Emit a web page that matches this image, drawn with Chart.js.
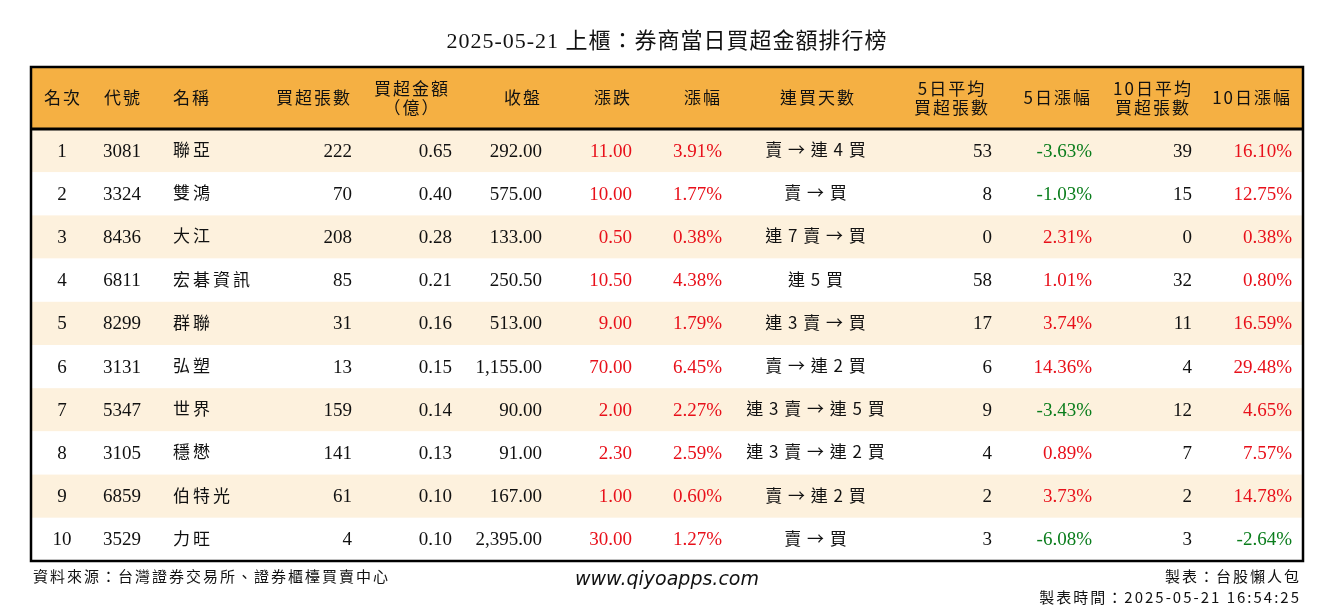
<!DOCTYPE html>
<html lang="zh-Hant">
<head>
<meta charset="UTF-8">
<title>券商當日買超金額排行榜</title>
<style>
  body { margin: 0; background: white; }
  canvas { display: block; }
</style>
</head>
<body>
<canvas id="tbl" width="1334" height="612"></canvas>
<script src="https://cdn.jsdelivr.net/npm/chart.js"></script>
<script>
// table data
const ranks = [1, 2, 3, 4, 5, 6, 7, 8, 9, 10];
const codes = ['3081', '3324', '8436', '6811', '8299', '3131', '5347', '3105', '6859', '3529'];
const names = ['聯亞', '雙鴻', '大江', '宏碁資訊', '群聯', '弘塑', '世界', '穩懋', '伯特光', '力旺'];
const netLots = [222, 70, 208, 85, 31, 13, 159, 141, 61, 4];
const netAmount = [0.65, 0.40, 0.28, 0.21, 0.16, 0.15, 0.14, 0.13, 0.10, 0.10];
const closePrice = [292.00, 575.00, 133.00, 250.50, 513.00, 1155.00, 90.00, 91.00, 167.00, 2395.00];
const change = [11.00, 10.00, 0.50, 10.50, 9.00, 70.00, 2.00, 2.30, 1.00, 30.00];
const changePct = [3.91, 1.77, 0.38, 4.38, 1.79, 6.45, 2.27, 2.59, 0.60, 1.27];
const streak = ['賣 → 連 4 買', '賣 → 買', '連 7 賣 → 買', '連 5 買', '連 3 賣 → 買', '賣 → 連 2 買', '連 3 賣 → 連 5 買', '連 3 賣 → 連 2 買', '賣 → 連 2 買', '賣 → 買'];
const avg5 = [53, 8, 0, 58, 17, 6, 9, 4, 2, 3];
const pct5 = [-3.63, -1.03, 2.31, 1.01, 3.74, 14.36, -3.43, 0.89, 3.73, -6.08];
const avg10 = [39, 15, 0, 32, 11, 4, 12, 7, 2, 3];
const pct10 = [16.10, 12.75, 0.38, 0.80, 16.59, 29.48, 4.65, 7.57, 14.78, -2.64];
const headers = ['名次', '代號', '名稱', '買超張數', '買超金額\n（億）', '收盤', '漲跌', '漲幅', '連買天數', '5日平均\n買超張數', '5日漲幅', '10日平均\n買超張數', '10日漲幅'];

const RED = '#e8101a', GREEN = '#0a7d1c', BLACK = '#111';
const f2 = v => v.toLocaleString('en-US', { minimumFractionDigits: 2, maximumFractionDigits: 2 });
const pct = v => f2(v) + '%';
const signColor = v => v < 0 ? GREEN : RED;

// column layout: anchor x, alignment, header anchor
const cols = [
  { x: 62,   align: 'center', hx: 63,   ha: 'center', text: i => String(ranks[i]) },
  { x: 122,  align: 'center', hx: 123,  ha: 'center', text: i => codes[i] },
  { x: 173,  align: 'left',   hx: 173,  ha: 'left',   text: i => names[i], cjk: '3px' },
  { x: 352,  align: 'right',  hx: 352,  ha: 'right',  text: i => String(netLots[i]) },
  { x: 452,  align: 'right',  hx: 412,  ha: 'center', text: i => f2(netAmount[i]) },
  { x: 542,  align: 'right',  hx: 542,  ha: 'right',  text: i => f2(closePrice[i]) },
  { x: 632,  align: 'right',  hx: 632,  ha: 'right',  text: i => f2(change[i]), color: i => RED },
  { x: 722,  align: 'right',  hx: 722,  ha: 'right',  text: i => pct(changePct[i]), color: i => RED },
  { x: 816,  align: 'center', hx: 818,  ha: 'center', text: i => streak[i], cjk: '1px' },
  { x: 992,  align: 'right',  hx: 952,  ha: 'center', text: i => String(avg5[i]) },
  { x: 1092, align: 'right',  hx: 1092, ha: 'right',  text: i => pct(pct5[i]), color: i => signColor(pct5[i]) },
  { x: 1192, align: 'right',  hx: 1153, ha: 'center', text: i => String(avg10[i]) },
  { x: 1292, align: 'right',  hx: 1292, ha: 'right',  text: i => pct(pct10[i]), color: i => signColor(pct10[i]) },
];

const SERIF = '"Liberation Serif", "Noto Sans CJK TC", serif';
const CJK = '"Noto Sans CJK TC", sans-serif';
const TOP = 67, HEAD_BOTTOM = 129, BOTTOM = 561, LEFT = 31, RIGHT = 1303;
const ROW_H = (BOTTOM - HEAD_BOTTOM) / ranks.length;

const tablePlugin = {
  id: 'table',
  afterDraw(chart) {
    const c = chart.ctx;
    const xs = chart.scales.x, ys = chart.scales.y;
    const px = v => xs.getPixelForValue(v);
    const py = v => ys.getPixelForValue(v);
    c.save();
    c.textBaseline = 'middle';

    // title
    c.fillStyle = BLACK;
    c.textAlign = 'center';
    c.letterSpacing = '1px';
    c.font = '22px ' + SERIF;
    c.fillText('2025-05-21 上櫃：券商當日買超金額排行榜', px(667), py(42));

    // header band
    c.fillStyle = '#f5b043';
    c.fillRect(px(LEFT), py(TOP), px(RIGHT) - px(LEFT), py(HEAD_BOTTOM) - py(TOP));
    // row shading
    ranks.forEach((r, i) => {
      const y0 = HEAD_BOTTOM + i * ROW_H;
      c.fillStyle = i % 2 === 0 ? '#fdf1dd' : '#ffffff';
      c.fillRect(px(LEFT), py(y0), px(RIGHT) - px(LEFT), py(y0 + ROW_H) - py(y0));
    });

    // header text
    c.fillStyle = BLACK;
    c.font = '17px ' + CJK;
    c.letterSpacing = '2px';
    cols.forEach((col, j) => {
      const lines = headers[j].split('\n');
      c.textAlign = col.ha;
      const mid = (TOP + HEAD_BOTTOM) / 2;
      lines.forEach((ln, k) => {
        const y = mid + (k - (lines.length - 1) / 2) * 19;
        c.fillText(ln, px(col.hx), py(y));
      });
    });

    // cells
    ranks.forEach((r, i) => {
      const yc = HEAD_BOTTOM + (i + 0.5) * ROW_H + 1;
      cols.forEach((col, j) => {
        c.textAlign = col.align;
        c.fillStyle = col.color ? col.color(i) : BLACK;
        c.letterSpacing = col.cjk || '0px';
        c.font = col.cjk ? '17px ' + CJK : '19px ' + SERIF;
        c.fillText(col.text(i), px(col.x), py(col.cjk ? yc - 2 : yc));
      });
    });

    // borders
    c.strokeStyle = '#000';
    c.lineWidth = 3;
    c.beginPath();
    c.moveTo(px(LEFT), py(HEAD_BOTTOM));
    c.lineTo(px(RIGHT), py(HEAD_BOTTOM));
    c.stroke();
    c.lineWidth = 2.5;
    c.strokeRect(px(LEFT), py(TOP), px(RIGHT) - px(LEFT), py(BOTTOM) - py(TOP));

    // footer
    c.fillStyle = BLACK;
    c.font = '15px ' + CJK;
    c.letterSpacing = '2px';
    c.textAlign = 'left';
    c.fillText('資料來源：台灣證券交易所、證券櫃檯買賣中心', px(33), py(576));
    c.textAlign = 'right';
    c.fillText('製表：台股懶人包', px(1301), py(576));
    c.fillText('製表時間：2025-05-21 16:54:25', px(1301), py(597));
    c.letterSpacing = '0px';
    c.textAlign = 'center';
    c.font = 'italic 19px "DejaVu Sans", sans-serif';
    c.fillText('www.qiyoapps.com', px(667), py(580));
    c.restore();
  }
};

new Chart(document.getElementById('tbl'), {
  type: 'scatter',
  data: { datasets: [{ data: [], pointRadius: 0 }] },
  options: {
    responsive: false,
    animation: false,
    layout: { padding: 0 },
    plugins: { legend: { display: false }, tooltip: { enabled: false } },
    scales: {
      x: { type: 'linear', min: 0, max: 1334, display: false },
      y: { type: 'linear', min: 0, max: 612, reverse: true, display: false }
    }
  },
  plugins: [tablePlugin]
});
</script>
</body>
</html>
